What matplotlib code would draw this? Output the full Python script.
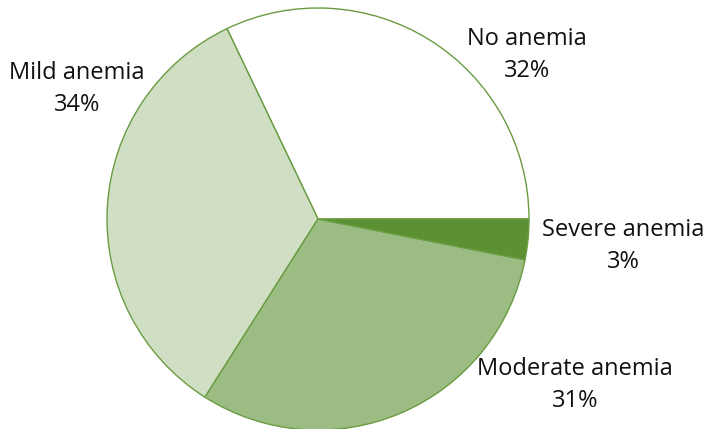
import matplotlib
matplotlib.use("Agg")
import matplotlib.pyplot as plt

categories = ["No anemia", "Mild anemia", "Moderate anemia", "Severe anemia"]
values = [32.1, 33.9, 30.9, 3.1]
pct_labels = ["32%", "34%", "31%", "3%"]
colors = ["#ffffff", "#d0dfc4", "#9bbd84", "#5b9132"]

W, H = 708, 429
fig = plt.figure(figsize=(W / 100, H / 100), dpi=100)
ax = fig.add_axes([0, 0, 1, 1])
ax.set_xlim(0, W)
ax.set_ylim(0, H)
ax.set_aspect("equal")
ax.axis("off")

cx, cy, r = 318, H - 219, 211
ax.pie(values, colors=colors, startangle=0, counterclock=True,
       center=(cx, cy), radius=r, frame=True,
       wedgeprops=dict(edgecolor="#6a9c42", linewidth=1.0))
ax.set_xlim(0, W)
ax.set_ylim(0, H)
ax.axis("off")

label_pos = [(527, 55), (77, 89), (575, 385), (623, 246)]
for cat, pct, (x, y) in zip(categories, pct_labels, label_pos):
    ax.text(x, H - y, f"{cat}\n{pct}", ha="center", va="center",
            fontsize=17, family="Open Sans", color="#111111", linespacing=1.45)

fig.savefig("out.png", dpi=100)
